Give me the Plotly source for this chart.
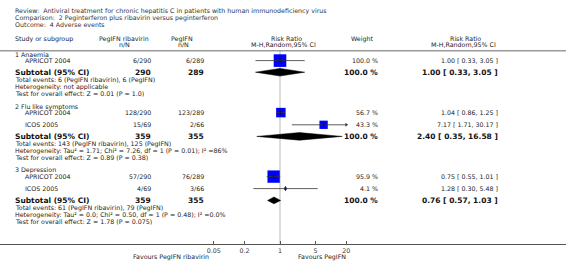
import math
import plotly.graph_objects as go

# ---------------- data ----------------
title_lines = [
    "Review:\u00a0 Antiviral treatment for chronic hepatitis C in patients with human immunodeficiency virus",
    "Comparison:\u00a0 2 Peginterferon plus ribavirin versus peginterferon",
    "Outcome:\u00a0 4 Adverse events",
]
subgroups = ["1 Anaemia", "2 Flu like symptoms", "3 Depression"]

study_names = ["APRICOT 2004", "APRICOT 2004", "ICOS 2005", "APRICOT 2004", "ICOS 2005"]
study_group = [0, 1, 1, 2, 2]
exp_events = [6, 128, 15, 57, 4]
exp_total = [290, 290, 69, 290, 69]
ctl_events = [6, 123, 2, 76, 3]
ctl_total = [289, 289, 66, 289, 66]
study_weight = [100.0, 56.7, 43.3, 95.9, 4.1]
study_rr = [1.00, 1.04, 7.17, 0.75, 1.28]
study_lo = [0.33, 0.86, 1.71, 0.55, 0.30]
study_hi = [3.05, 1.25, 30.17, 1.01, 5.48]

sub_exp_total = [290, 359, 359]
sub_ctl_total = [289, 355, 355]
sub_weight = [100.0, 100.0, 100.0]
sub_rr = [1.00, 2.40, 0.76]
sub_lo = [0.33, 0.35, 0.57]
sub_hi = [3.05, 16.58, 1.03]
sub_events_text = [
    "Total events: 6 (PegIFN ribavirin), 6 (PegIFN)",
    "Total events: 143 (PegIFN ribavirin), 125 (PegIFN)",
    "Total events: 61 (PegIFN ribavirin), 79 (PegIFN)",
]
sub_het_text = [
    "Heterogeneity: not applicable",
    "Heterogeneity: Tau\u00b2 = 1.71; Chi\u00b2 = 7.26, df = 1 (P = 0.01); I\u00b2 =86%",
    "Heterogeneity: Tau\u00b2 = 0.0; Chi\u00b2 = 0.50, df = 1 (P = 0.48); I\u00b2 =0.0%",
]
sub_test_text = [
    "Test for overall effect: Z = 0.01 (P = 1.0)",
    "Test for overall effect: Z = 0.89 (P = 0.38)",
    "Test for overall effect: Z = 1.78 (P = 0.075)",
]

tick_vals = [0.05, 0.2, 1, 5, 20]
tick_text = ["0.05", "0.2", "1", "5", "20"]
left_label = "Favours PegIFN ribavirin"
right_label = "Favours PegIFN"

# ---------------- layout (pixel rows) ----------------
W, H = 566, 273
PLOT_H = 244
PX_PER_DEC = 50.96
X_ONE = 280.0
CLIP_LO, CLIP_HI = 0.05, 20

group_header_y = [54.8, 106.6, 170.0]
study_y = [60.6, 112.6, 124.8, 176.6, 188.6]
sub_y = [72.2, 136.4, 200.4]
line_gap = 7.0

FONT = "DejaVu Sans"
FS = 6.3
FSB = 7.5
TXT = "#222222"

X_NAME, X_STUDY = 13, 23
X_EXP, X_CTL = 152.5, 206
X_WT, X_RR = 380, 499.5

fig = go.Figure()
ann = []


def py(y):
    return 1 - y / PLOT_H


def text(x, y, s, anchor="left", size=FS, bold=False, color=TXT):
    ann.append(dict(
        x=x / W, y=py(y), xref="paper", yref="paper", text=("<b>%s</b>" % s) if bold else s,
        showarrow=False, xanchor=anchor, yanchor="middle",
        font=dict(family=FONT, size=size, color=color), align=anchor if anchor != "center" else "center",
    ))


# titles
for i, t in enumerate(title_lines):
    text(X_NAME, 10.5 + i * 7.0, t, color="#333333")

# headers
HY1, HY2 = 38.8, 44.3
text(X_NAME, HY1, "Study or subgroup")
text(124, HY1, "PegIFN ribavirin", "center")
text(124, HY2, "n/N", "center")
text(182, HY1, "PegIFN", "center")
text(183, HY2, "n/N", "center")
text(286, HY1, "Risk Ratio", "center")
text(283, HY2, "M-H,Random,95% CI", "center")
text(362, HY1, "Weight", "center")
text(465, HY1, "Risk Ratio", "center")
text(463, HY2, "M-H,Random,95% CI", "center")

# header rule and vertical line at 1
fig.add_shape(type="line", xref="paper", yref="y", x0=0, x1=1, y0=50.8, y1=50.8,
              line=dict(color="#9a9a9a", width=1.5))
fig.add_shape(type="line", xref="x", yref="y", x0=1, x1=1, y0=50.8, y1=PLOT_H,
              line=dict(color="#dcdcdc", width=2), layer="below")

# subgroup headers & subtotals
for g in range(3):
    text(X_NAME, group_header_y[g], subgroups[g])
    ys = sub_y[g]
    text(X_NAME, ys, "Subtotal (95% CI)", size=FSB, bold=True, color="#111111")
    text(X_EXP, ys, str(sub_exp_total[g]), "right", size=FSB, bold=True, color="#111111")
    text(X_CTL, ys, str(sub_ctl_total[g]), "right", size=FSB, bold=True, color="#111111")
    text(X_WT, ys, "%.1f %%" % sub_weight[g], "right", size=FSB, bold=True, color="#111111")
    text(X_RR, ys, "%.2f [ %.2f, %.2f ]" % (sub_rr[g], sub_lo[g], sub_hi[g]), "right",
         size=FSB, bold=True, color="#111111")
    text(X_NAME, ys + 7.4, sub_events_text[g])
    text(X_NAME, ys + 7.4 + line_gap, sub_het_text[g])
    text(X_NAME, ys + 7.4 + 2 * line_gap, sub_test_text[g])
    # diamond
    h = 3.8 if g < 2 else 3.4
    fig.add_trace(go.Scatter(
        x=[sub_lo[g], sub_rr[g], sub_hi[g], sub_rr[g], sub_lo[g]],
        y=[ys, ys - h, ys, ys + h, ys],
        mode="lines", fill="toself", fillcolor="black",
        line=dict(color="black", width=0.5), hoverinfo="skip", showlegend=False))

# studies
for i in range(len(study_names)):
    y = study_y[i]
    text(X_STUDY, y, study_names[i])
    text(X_EXP, y, "%d/%d" % (exp_events[i], exp_total[i]), "right")
    text(X_CTL, y, "%d/%d" % (ctl_events[i], ctl_total[i]), "right")
    text(X_WT, y, "%.1f %%" % study_weight[i], "right")
    text(X_RR, y, "%.2f [ %.2f, %.2f ]" % (study_rr[i], study_lo[i], study_hi[i]), "right")
    lo = max(study_lo[i], CLIP_LO)
    hi = min(study_hi[i], CLIP_HI)
    size = 12.6 * math.sqrt(study_weight[i] / 100.0)
    fig.add_trace(go.Scatter(
        x=[study_rr[i]], y=[y], mode="markers",
        marker=dict(symbol="square", size=size, color="#0000ff", line=dict(width=0)),
        hoverinfo="skip", showlegend=False))
    fig.add_trace(go.Scatter(
        x=[lo, hi], y=[y, y], mode="lines",
        line=dict(color="#333333", width=0.8), hoverinfo="skip", showlegend=False))
    fig.add_trace(go.Scatter(
        x=[study_rr[i]], y=[y], mode="markers",
        marker=dict(symbol="line-ns", size=3.5, line=dict(color="#111111", width=0.8)),
        hoverinfo="skip", showlegend=False))
    if study_hi[i] > CLIP_HI:
        fig.add_trace(go.Scatter(
            x=[CLIP_HI], y=[y], mode="markers",
            marker=dict(symbol="triangle-right", size=3.5, color="#333333"),
            hoverinfo="skip", showlegend=False))

# favours labels
text(171, 257.3, left_label, "center")
text(322, 257.3, right_label, "center")

x0 = -X_ONE / PX_PER_DEC
x1 = (W - X_ONE) / PX_PER_DEC
fig.update_layout(
    width=W, height=H, margin=dict(l=0, r=0, t=0, b=H - PLOT_H, pad=0),
    paper_bgcolor="white", plot_bgcolor="white",
    annotations=ann, showlegend=False,
    xaxis=dict(type="log", range=[x0, x1], showgrid=False, zeroline=False,
               showline=True, linecolor="#555555", linewidth=1,
               ticks="inside", ticklen=3, tickcolor="#555555", tickwidth=1,
               tickvals=tick_vals, ticktext=tick_text,
               tickfont=dict(family=FONT, size=FS, color="#333333"), fixedrange=True),
    yaxis=dict(range=[PLOT_H, 0], visible=False, fixedrange=True),
)
fig.write_html("out.html", config={"displayModeBar": False},
               post_script="document.body.style.margin='0';document.body.style.overflow='hidden';")
